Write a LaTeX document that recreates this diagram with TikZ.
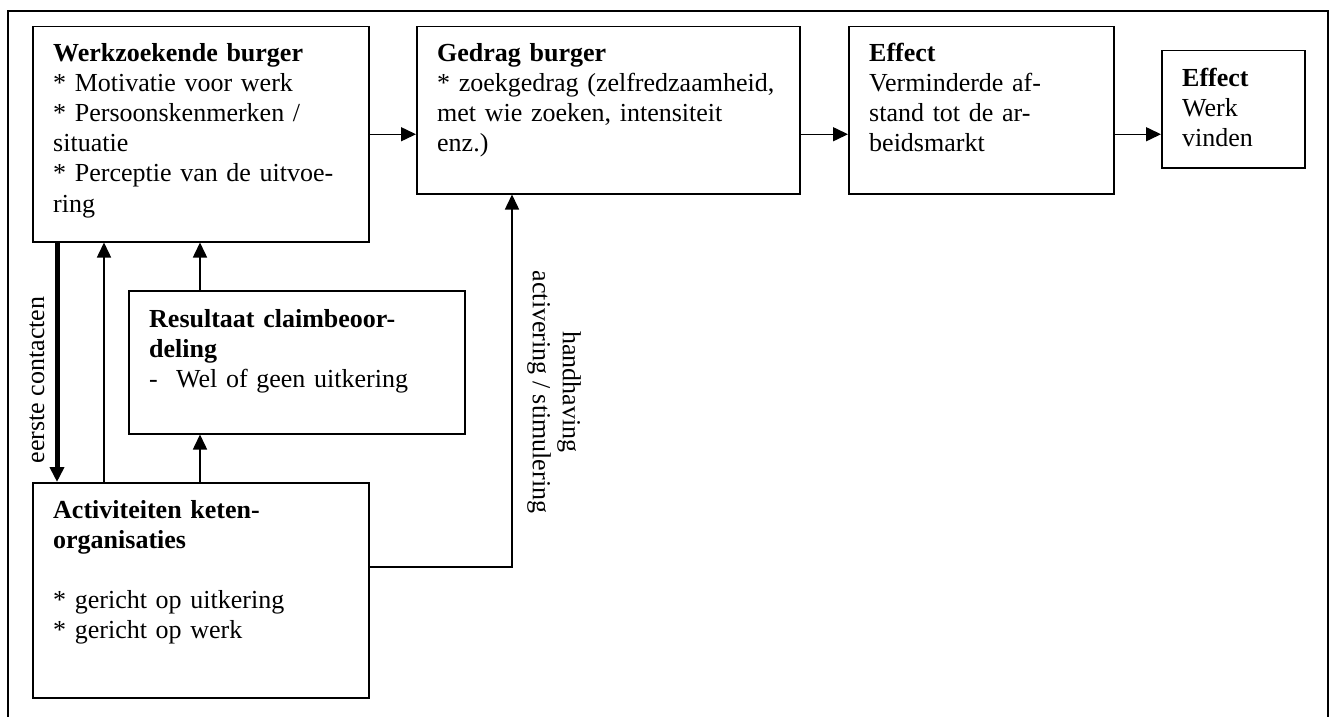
\documentclass[tikz,border=0pt]{standalone}
\usepackage{fontspec}
\setmainfont{Liberation Serif}
\usetikzlibrary{arrows.meta}
\begin{document}
\begin{tikzpicture}[x=1pt,y=-1pt,
  box/.style={draw, line width=1.5pt, anchor=north west, inner sep=0pt},
  txt/.style={anchor=base west, inner sep=0pt, text width=420pt, align=left,
    font=\fontsize{26}{30}\selectfont},
  lbl/.style={inner sep=0pt, align=center, font=\fontsize{26}{30}\selectfont},
  arr/.style={line width=1.5pt, -{Triangle[length=15pt,width=14pt]}},
  thickarr/.style={line width=5pt, -{Triangle[length=15pt,width=14pt]}}]
\useasboundingbox (0,0) rectangle (1333,717);
% outer frame (open at the bottom)
\draw[line width=1.5pt] (8,717) -- (8,11) -- (1328,11) -- (1328,717);
% boxes
\node[box, minimum width=336pt, minimum height=215pt] (b1) at (32,26) {};
\node[box, minimum width=383pt, minimum height=167pt] (b2) at (416,26) {};
\node[box, minimum width=265pt, minimum height=167pt] (b3) at (848,26) {};
\node[box, minimum width=143pt, minimum height=117pt] (b4) at (1161,50) {};
\node[box, minimum width=336pt, minimum height=143pt] (b5) at (128,290) {};
\node[box, minimum width=336pt, minimum height=215pt] (b6) at (32,482) {};
% texts
\node[txt] (b1t) at (53,62) {\textbf{Werkzoekende burger}\\{}* Motivatie voor werk\\{}* Persoonskenmerken /\\situatie\\{}* Perceptie van de uitvoe-\\ring};
\node[txt] (b2t) at (437,62) {\textbf{Gedrag burger}\\{}* zoekgedrag (zelfredzaamheid,\\met wie zoeken, intensiteit\\enz.)};
\node[txt] (b3t) at (869,62) {\textbf{Effect}\\Verminderde af-\\stand tot de ar-\\beidsmarkt};
\node[txt] (b4t) at (1182,86) {\textbf{Effect}\\Werk\\vinden};
\node[txt] (b5t) at (149,327) {\textbf{Resultaat claimbeoor-}\\\textbf{deling}\\\makebox[27pt][l]{-}Wel of geen uitkering};
\node[txt] (b6t) at (53,518) {\textbf{Activiteiten keten-}\\\textbf{organisaties}\\[30pt]{}* gericht op uitkering\\{}* gericht op werk};
% labels
\node[lbl, rotate=90] (l1) at (37,380) {eerste contacten};
\node[lbl, rotate=-90] (l2) at (554,392) {handhaving\\activering / stimulering};
% connectors
\draw[arr] (b1.east) -- (b2.west |- b1.east);
\draw[arr] (b2.east |- b1.east) -- (b3.west |- b1.east);
\draw[arr] (b3.east |- b1.east) -- (b4.west |- b1.east);
\draw[thickarr] ([xshift=25pt]b1.south west) -- ([xshift=25pt]b6.north west);
\draw[arr] ([xshift=72pt]b6.north west) -- ([xshift=72pt]b1.south west);
\draw[arr] ([xshift=72pt]b5.north west) -- ([xshift=168pt]b1.south west);
\draw[arr] ([xshift=168pt]b6.north west) -- ([xshift=72pt]b5.south west);
\draw[arr] ([yshift=23.5pt]b6.east) -| ([xshift=96pt]b2.south west);
\end{tikzpicture}
\end{document}
